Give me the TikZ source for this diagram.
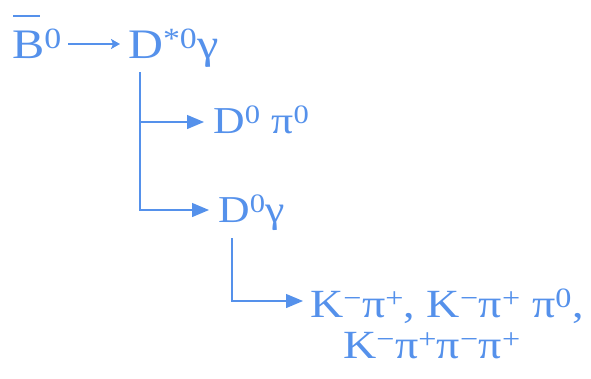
\documentclass[tikz,border=0pt]{standalone}
\usepackage{fontspec}
\setmainfont[FakeStretch=1.15]{Liberation Serif}
\usetikzlibrary{arrows.meta}
\definecolor{ink}{RGB}{85,145,235}
\newcommand{\sps}[1]{\textsuperscript{#1}}
\newcommand{\barB}{\rlap{\hspace{0.03em}\raisebox{0.98em}{\rule{0.64em}{2.2pt}}}B}
\begin{document}
\begin{tikzpicture}[x=1pt,y=-1pt,
  lbl/.style={inner sep=0pt,anchor=base west,text=ink},
  big/.style={lbl,font=\fontsize{42}{48}\selectfont},
  mid/.style={lbl,font=\fontsize{38}{44}\selectfont},
  small/.style={lbl,font=\fontsize{40}{44}\selectfont,align=left},
  branch/.style={draw=ink,line width=1.3pt,-{Triangle[length=17pt,width=14pt]}},
  decay/.style={draw=ink,line width=1.6pt,-{Stealth[length=9pt,width=10pt,inset=2pt]}}]
\useasboundingbox (0,0) rectangle (591,378);
\node[big] (B) at (12,58) {\barB\sps{0}};
\node[big] (Dst) at (128,58) {D\sps{*0}γ};
\draw[decay] ([xshift=6pt,yshift=14pt]B.base east) -- ([xshift=-8pt,yshift=14pt]Dst.base west);
\coordinate (t1) at (140,72);
\node[mid] (Dpi) at (213,133) {D\sps{0} π\sps{0}};
\node[mid] (Dg) at (218,222) {D\sps{0}γ};
\draw[branch] (t1) |- ([xshift=-9pt,yshift=11pt]Dpi.base west);
\draw[branch] (t1) |- ([xshift=-9pt,yshift=12pt]Dg.base west);
\coordinate (t2) at (232,238);
\node[small] (K) at (310,317) {K\sps{−}π\sps{+}, K\sps{−}π\sps{+} π\sps{0},};
\node[small] (K2) at (343,358) {K\sps{−}π\sps{+}π\sps{−}π\sps{+}};
\draw[branch] (t2) |- ([xshift=-7pt,yshift=16pt]K.base west);
\end{tikzpicture}
\end{document}
